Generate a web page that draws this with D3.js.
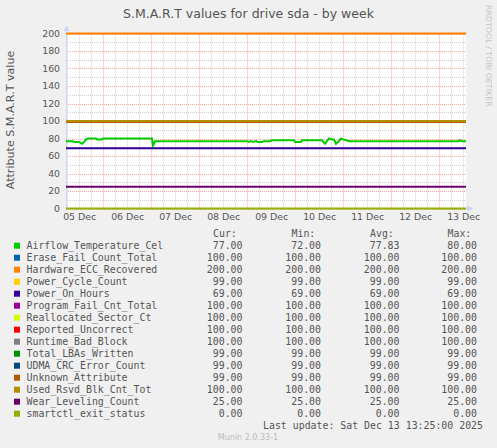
<!DOCTYPE html>
<html>
<head>
<meta charset="utf-8">
<script src="https://cdn.jsdelivr.net/npm/d3@7"></script>
<style>
  body { margin: 0; background: #f0f0f0; }
  text { fill: #555; }
</style>
</head>
<body>
<div id="chart"></div>
<script>
var title = "S.M.A.R.T values for drive sda - by week";
var yLabel = "Attribute S.M.A.R.T value";
var periodStart = "2025-12-05 05:25";
var periodEnd = "2025-12-13 13:25";
var lastUpdate = "Sat Dec 13 13:25:00 2025";
var yTicks = [0, 20, 40, 60, 80, 100, 120, 140, 160, 180, 200];
var legendHeaders = ["Cur:", "Min:", "Avg:", "Max:"];

var fieldNames = ["Airflow_Temperature_Cel", "Erase_Fail_Count_Total", "Hardware_ECC_Recovered",
  "Power_Cycle_Count", "Power_On_Hours", "Program_Fail_Cnt_Total", "Reallocated_Sector_Ct",
  "Reported_Uncorrect", "Runtime_Bad_Block", "Total_LBAs_Written", "UDMA_CRC_Error_Count",
  "Unknown_Attribute", "Used_Rsvd_Blk_Cnt_Tot", "Wear_Leveling_Count", "smartctl_exit_status"];
var fieldColors = ["#00CC00", "#0066B3", "#FF8000", "#FFCC00", "#330099", "#990099", "#CCFF00",
  "#FF0000", "#808080", "#008F00", "#00487D", "#B35A00", "#B38F00", "#6B006B", "#8FB300"];
var curValues = [77, 100, 200, 99, 69, 100, 100, 100, 100, 99, 99, 99, 100, 25, 0];
var minValues = [72, 100, 200, 99, 69, 100, 100, 100, 100, 99, 99, 99, 100, 25, 0];
var avgValues = [77.83, 100, 200, 99, 69, 100, 100, 100, 100, 99, 99, 99, 100, 25, 0];
var maxValues = [80, 100, 200, 99, 69, 100, 100, 100, 100, 99, 99, 99, 100, 25, 0];

// airflow temperature is the only one that moves during the week
var airflowTimes = ["2025-12-05 05:25", "2025-12-05 08:55", "2025-12-05 09:25", "2025-12-05 11:55",
  "2025-12-05 13:25", "2025-12-05 14:25", "2025-12-05 15:25", "2025-12-05 16:25", "2025-12-05 20:25",
  "2025-12-05 20:55", "2025-12-05 23:25", "2025-12-05 23:55", "2025-12-07 00:25", "2025-12-07 00:55",
  "2025-12-07 01:25", "2025-12-07 01:55", "2025-12-08 23:55", "2025-12-09 00:55", "2025-12-09 01:55",
  "2025-12-09 02:55", "2025-12-09 04:25", "2025-12-09 05:25", "2025-12-09 07:25", "2025-12-09 08:25",
  "2025-12-09 11:25", "2025-12-09 12:25", "2025-12-09 23:25", "2025-12-09 23:55", "2025-12-10 02:55",
  "2025-12-10 03:25", "2025-12-10 13:25", "2025-12-10 14:55", "2025-12-10 15:55", "2025-12-10 16:55",
  "2025-12-10 18:25", "2025-12-10 19:25", "2025-12-10 20:25", "2025-12-10 21:25", "2025-12-10 22:55",
  "2025-12-10 23:55", "2025-12-11 01:25", "2025-12-11 03:25", "2025-12-13 09:55", "2025-12-13 10:25",
  "2025-12-13 11:25", "2025-12-13 13:25"];
var airflowValues = [77, 77, 76, 76, 74, 76, 79, 80, 80, 79, 79, 80, 80, 72, 74, 77, 77, 76, 77, 76,
  77, 76, 76, 77, 77, 78, 78, 76, 76, 78, 78, 74, 77, 80, 79, 79, 74, 76, 80, 79, 78, 77, 77, 78, 77, 77];

var W = 497, H = 448;
var parse = d3.utcParse("%Y-%m-%d %H:%M");
var t0 = parse(periodStart), t1 = parse(periodEnd);

var svg = d3.select("#chart").append("svg")
    .attr("width", W).attr("height", H)
    .style("font-family", "DejaVu Sans, sans-serif");
svg.append("rect").attr("width", W).attr("height", H).attr("fill", "#f0f0f0");

var x = d3.scaleUtc().domain([t0, t1]).range([66, 466]);
var y = d3.scaleLinear().domain([0, 200]).range([208.5, 33.5]);

svg.append("rect")
    .attr("x", x.range()[0]).attr("y", y(200))
    .attr("width", x.range()[1] - x.range()[0]).attr("height", y(0) - y(200))
    .attr("fill", "#fff");

var minorCol = "rgba(128,128,128,0.37)", majorCol = "rgba(255,0,0,0.37)";

// grid
var grid = svg.append("g").attr("stroke-dasharray", "1,1").attr("stroke-width", 1);
d3.utcHour.every(6).range(t0, t1).forEach(function(d) {
  var major = d.getUTCHours() == 0;
  grid.append("line")
      .attr("x1", Math.round(x(d)) + 0.5).attr("x2", Math.round(x(d)) + 0.5)
      .attr("y1", y(200)).attr("y2", y(0))
      .attr("stroke", major ? majorCol : minorCol);
});
d3.range(0, 201, 10).forEach(function(v) {
  grid.append("line")
      .attr("x1", x.range()[0]).attr("x2", x.range()[1])
      .attr("y1", Math.round(y(v)) + 0.5).attr("y2", Math.round(y(v)) + 0.5)
      .attr("stroke", v % 20 == 0 ? majorCol : minorCol);
});

// axes (rrdtool style, light blue with arrows)
var axisCol = "#CFD6F8";
svg.append("line").attr("x1", 66.5).attr("x2", 66.5).attr("y1", y(0)).attr("y2", 29)
    .attr("stroke", axisCol);
svg.append("path").attr("d", "M63.5,31 L66.5,25 L69.5,31 Z").attr("fill", axisCol);
svg.append("line").attr("x1", 66).attr("x2", 469).attr("y1", y(0)).attr("y2", y(0))
    .attr("stroke", axisCol);
svg.append("path")
    .attr("d", "M467," + (y(0) - 3) + " L473," + y(0) + " L467," + (y(0) + 3) + " Z")
    .attr("fill", axisCol);

// tick labels
var xAxis = d3.axisBottom(x)
    .tickValues(d3.utcDay.range(d3.utcDay.floor(t0), t1).map(function(d) { return d3.utcHour.offset(d, 12); }))
    .tickFormat(d3.utcFormat("%d %b"))
    .tickSize(0).tickPadding(5);
var gx = svg.append("g").attr("transform", "translate(0," + y(0) + ")").call(xAxis);
gx.select(".domain").remove();
gx.selectAll("text").attr("font-size", 9.4).attr("font-family", "DejaVu Sans").style("fill", "#555");

var yAxis = d3.axisLeft(y).tickValues(yTicks).tickSize(0).tickPadding(6);
var gy = svg.append("g").attr("transform", "translate(66,0)").call(yAxis);
gy.select(".domain").remove();
gy.selectAll("text").attr("font-size", 9.3).attr("font-family", "DejaVu Sans").style("fill", "#555");

// series
var line = d3.line().x(function(d) { return x(d.t); }).y(function(d) { return y(d.v); });
fieldNames.forEach(function(name, i) {
  var pts;
  if (i == 0) {
    pts = airflowTimes.map(function(s, j) { return { t: parse(s), v: airflowValues[j] }; });
  } else {
    pts = [{ t: t0, v: curValues[i] }, { t: t1, v: curValues[i] }];
  }
  svg.append("path").datum(pts)
      .attr("d", line)
      .attr("fill", "none")
      .attr("stroke", fieldColors[i])
      .attr("stroke-width", 2);
});

// titles
svg.append("text").attr("x", 248.5).attr("y", 17.6)
    .attr("text-anchor", "middle").attr("font-size", 12.5).text(title);
svg.append("text")
    .attr("transform", "translate(10.7,120) rotate(-90)")
    .attr("text-anchor", "middle").attr("dominant-baseline", "central")
    .attr("font-size", 11.1).text(yLabel);
svg.append("text")
    .attr("transform", "translate(488,5) rotate(90)")
    .attr("dominant-baseline", "central")
    .attr("font-size", 7.9).style("fill", "#c4c4c4")
    .text("RRDTOOL / TOBI OETIKER");

// legend
var mono = "DejaVu Sans Mono, monospace";
var fmt = d3.format(".2f");
var lg = svg.append("g").attr("font-family", mono).attr("font-size", 9.9);
var headerX = [213, 291.5, 370, 447.5];
legendHeaders.forEach(function(h, k) {
  lg.append("text").attr("x", headerX[k]).attr("y", 236.8).text(h);
});
var colRight = [242.5, 321, 399.5, 477];
var cols = [curValues, minValues, avgValues, maxValues];
fieldNames.forEach(function(name, i) {
  var cy = 245.7 + i * 12;
  lg.append("rect").attr("x", 14).attr("y", cy - 3).attr("width", 6).attr("height", 6)
      .attr("fill", fieldColors[i]);
  lg.append("text").attr("x", 26.5).attr("y", cy + 3.5).text(name);
  cols.forEach(function(c, k) {
    lg.append("text").attr("x", colRight[k]).attr("y", cy + 3.5)
        .attr("text-anchor", "end").text(fmt(c[i]));
  });
});
lg.append("text").attr("x", 483).attr("y", 428.5).attr("text-anchor", "end")
    .text("Last update: " + lastUpdate);

svg.append("text").attr("x", 248).attr("y", 439.6).attr("text-anchor", "middle")
    .attr("font-size", 8).style("fill", "#bbb").text("Munin 2.0.33-1");
</script>
</body>
</html>
